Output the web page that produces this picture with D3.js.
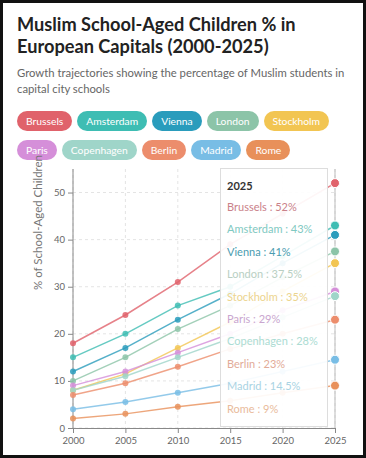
<!DOCTYPE html>
<html><head><meta charset="utf-8">
<script src="https://cdn.jsdelivr.net/npm/d3@7/dist/d3.min.js"></script>
<style>
html,body{margin:0;padding:0;background:#fff;}
body{width:366px;height:458px;overflow:hidden;position:relative;font-family:Lato,sans-serif;}
#frame{position:absolute;left:0;top:0;width:360px;height:452px;border:3px solid #111;}
h1{position:absolute;left:17px;top:13px;margin:0;font-size:18.2px;line-height:22px;font-weight:700;color:#222;}
.sub{position:absolute;left:17px;top:65px;margin:0;font-size:11.3px;line-height:16px;color:#666;width:345px;}
#legend{position:absolute;left:17px;top:109px;width:345px;}
.pill{display:inline-block;height:20px;line-height:20px;border-radius:10px;color:#fff;font-size:10.3px;padding:0 9px;margin:0 5px 7px 0;}
#chart{position:absolute;left:0;top:152px;}
#tip{position:absolute;left:220px;top:168px;width:108px;height:259px;background:rgba(255,255,255,0.93);border:1px solid #ddd;box-sizing:border-box;font-size:11px;}
#tip .hd{position:absolute;left:6px;top:10px;font-weight:700;color:#333;font-size:11px;}
#tip .it{position:absolute;left:6px;white-space:nowrap;}
</style></head><body>
<div id="frame"></div>
<h1>Muslim School-Aged Children % in<br>European Capitals (2000-2025)</h1>
<p class="sub">Growth trajectories showing the percentage of Muslim students in capital city schools</p>
<div id="legend"></div>
<svg id="chart" width="366" height="300"></svg>
<div id="tip"></div>
<script>
const years = [2000, 2005, 2010, 2015, 2020, 2025];
const cities = ["Brussels","Amsterdam","Vienna","London","Stockholm","Paris","Copenhagen","Berlin","Madrid","Rome"];
const colors = ["#e0626b","#3ebdb3","#2a9cbc","#8cc4a8","#f2c552","#d58fd9","#9fd5c9","#ec8d6c","#78bde5","#e8905a"];
const brussels   = [18, 24, 31, 39, 45.5, 52];
const amsterdam  = [15, 20, 26, 30, 36.5, 43];
const vienna     = [12, 17, 23, 28.5, 35, 41];
const london     = [10, 15, 21, 26, 32, 37.5];
const stockholm  = [8, 11.5, 17, 22.5, 29, 35];
const paris      = [9, 12, 16, 20, 25, 29];
const copenhagen = [8, 11, 15, 19, 23.5, 28];
const berlin     = [7, 9.5, 13, 16.8, 20, 23];
const madrid     = [4, 5.5, 7.5, 9.5, 12, 14.5];
const rome       = [2, 3, 4.5, 5.8, 7.5, 9];
const values = [brussels, amsterdam, vienna, london, stockholm, paris, copenhagen, berlin, madrid, rome];
const yTicks = [0, 10, 20, 30, 40, 50];
const tipLabels = ["52%","43%","41%","37.5%","35%","29%","28%","23%","14.5%","9%"];
const tipColors = ["#c98189","#7fc9c2","#4a9cb0","#b9cfc3","#ecd48e","#c9a6cf","#acdcd3","#e2ab98","#a9d3e3","#e9bb9c"];

const lg = d3.select("#legend");
cities.forEach((c,i)=>{ lg.append("span").attr("class","pill").style("background",colors[i]).text(c); });

const T = 152;
const svg = d3.select("#chart");
const x = d3.scaleLinear().domain([2000,2025]).range([73,335]);
const y = d3.scaleLinear().domain([0,55]).range([428-T, 169-T]);

const g = svg.append("g");
g.selectAll(".hg").data(yTicks).enter().append("line")
  .attr("x1",73).attr("x2",335).attr("y1",d=>y(d)).attr("y2",d=>y(d))
  .attr("stroke","#e4e4e4").attr("stroke-dasharray","3,3");
g.selectAll(".vg").data(years).enter().append("line")
  .attr("y1",y(55)).attr("y2",y(0)).attr("x1",d=>x(d)).attr("x2",d=>x(d))
  .attr("stroke","#e4e4e4").attr("stroke-dasharray","3,3");

const xa = svg.append("g").attr("transform",`translate(0,${y(0)})`)
  .call(d3.axisBottom(x).tickValues(years).tickFormat(d3.format("d")).tickSize(5));
const ya = svg.append("g").attr("transform",`translate(73,0)`)
  .call(d3.axisLeft(y).tickValues(yTicks).tickSize(5));
[xa,ya].forEach(a=>{
  a.selectAll("path,line").attr("stroke","#888");
  a.selectAll("text").attr("fill","#666").style("font-size","9.5px").style("font-family","Lato, sans-serif");
});
xa.selectAll("text").attr("dy","0.85em");
ya.select(".domain").attr("d",`M-0,${y(55)}V${y(0)}`);

svg.append("text").attr("transform","rotate(-90)")
  .attr("x",-(290-T)).attr("y",42).attr("text-anchor","start")
  .attr("fill","#777").style("font-size","11.5px").text("% of School-Aged Children");

const line = d3.line().x((d,i)=>x(years[i])).y(d=>y(d));
values.forEach((v,k)=>{
  svg.append("path").datum(v).attr("d",line).attr("fill","none")
    .attr("stroke",colors[k]).attr("stroke-width",1.5).attr("opacity",0.8);
  svg.selectAll(null).data(v.slice(0,5)).enter().append("circle")
    .attr("cx",(d,i)=>x(years[i])).attr("cy",d=>y(d)).attr("r",3)
    .attr("fill",colors[k]).attr("opacity",0.85);
});
svg.append("line").attr("x1",x(2025)).attr("x2",x(2025)).attr("y1",y(55)).attr("y2",y(0))
  .attr("stroke","#bbb").attr("stroke-width",1);
values.forEach((v,k)=>{
  svg.append("circle").attr("cx",x(2025)).attr("cy",y(v[5])).attr("r",4.5)
    .attr("fill",colors[k]).attr("stroke","#fff").attr("stroke-width",1);
});

const tip = d3.select("#tip");
tip.append("div").attr("class","hd").text("2025");
cities.forEach((c,i)=>{
  tip.append("div").attr("class","it").style("top",(31+i*22.4)+"px")
    .style("color",tipColors[i]).text(c+" : "+tipLabels[i]);
});
</script>
</body></html>
